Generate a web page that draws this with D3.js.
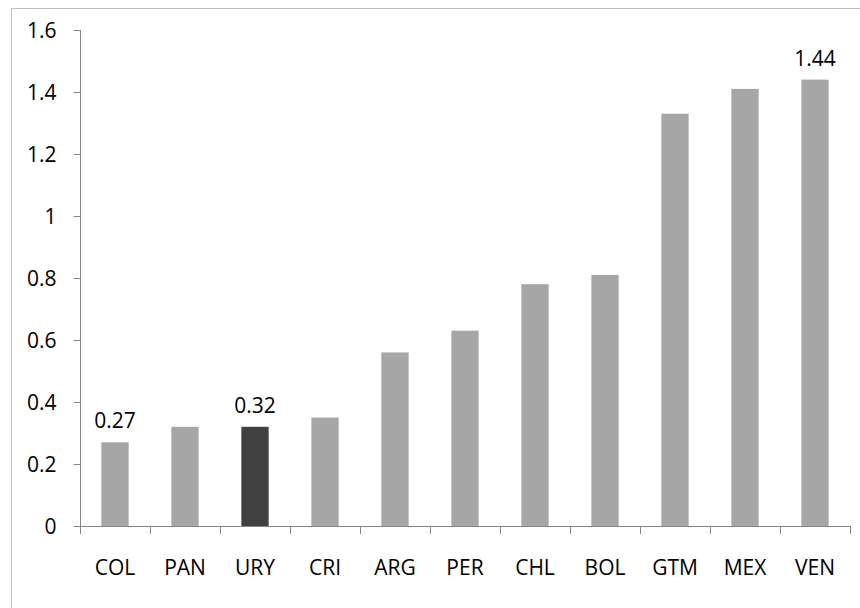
<!DOCTYPE html>
<html><head><meta charset="utf-8">
<script src="https://cdn.jsdelivr.net/npm/d3@7"></script>
<style>body{margin:0;background:#fff}svg{display:block}text{font-family:"Open Sans",sans-serif;fill:#000}</style>
</head><body><svg id="c" width="860" height="608"></svg>
<script>
const categories = ["COL","PAN","URY","CRI","ARG","PER","CHL","BOL","GTM","MEX","VEN"];
const values = [0.27,0.32,0.32,0.35,0.56,0.63,0.78,0.81,1.33,1.41,1.44];
const highlight = ["URY"];
const labelled = {"COL":"0.27","URY":"0.32","VEN":"1.44"};
const yTicks = [0,0.2,0.4,0.6,0.8,1,1.2,1.4,1.6];

const svg = d3.select("#c");
svg.append("rect").attr("x",11.5).attr("y",8.5).attr("width",900).attr("height",700)
  .attr("fill","none").attr("stroke","#bfbfbf").attr("stroke-width",1);

const x = d3.scaleBand().domain(categories).range([80,850]).paddingInner(0.61).paddingOuter(0.305);
const y = d3.scaleLinear().domain([0,1.6]).range([526,30]);
const fs = "21px";

// y axis
const ya = svg.append("g").attr("transform","translate(80.5,0)");
ya.append("line").attr("y1",y(1.6)).attr("y2",y(0)).attr("stroke","#868686");
ya.selectAll("line.t").data(yTicks).join("line").attr("class","t")
  .attr("x1",-7).attr("x2",0).attr("y1",d=>Math.round(y(d))+0.5).attr("y2",d=>Math.round(y(d))+0.5).attr("stroke","#868686");
ya.selectAll("text").data(yTicks).join("text")
  .attr("x",-24).attr("y",d=>y(d)).attr("dy","0.36em").attr("text-anchor","end")
  .style("font-size",fs).text(d=>d3.format("")(d));

// bars
svg.selectAll("rect.bar").data(categories).join("rect").attr("class","bar")
  .attr("x",d=>x(d)).attr("width",x.bandwidth())
  .attr("y",(d,i)=>y(values[i])).attr("height",(d,i)=>y(0)-y(values[i]))
  .attr("fill",d=>highlight.includes(d)?"#404040":"#a6a6a6");

// x axis
const xa = svg.append("g");
xa.append("line").attr("x1",80).attr("x2",850).attr("y1",526.5).attr("y2",526.5).attr("stroke","#868686");
const edges = categories.map(c=>x(c)-x.step()*x.paddingInner()/2).concat([850]);
xa.selectAll("line.t").data(edges).join("line").attr("class","t")
  .attr("x1",d=>Math.round(d)+0.5).attr("x2",d=>Math.round(d)+0.5).attr("y1",526).attr("y2",534).attr("stroke","#868686");
xa.selectAll("text").data(categories).join("text")
  .attr("x",d=>x(d)+x.bandwidth()/2).attr("y",575).attr("text-anchor","middle")
  .style("font-size",fs).text(d=>d);

// value labels
svg.selectAll("text.v").data(categories.filter(c=>labelled[c])).join("text").attr("class","v")
  .attr("x",d=>x(d)+x.bandwidth()/2).attr("y",d=>y(values[categories.indexOf(d)])-14)
  .attr("text-anchor","middle").style("font-size",fs).text(d=>labelled[d]);
</script></body></html>
